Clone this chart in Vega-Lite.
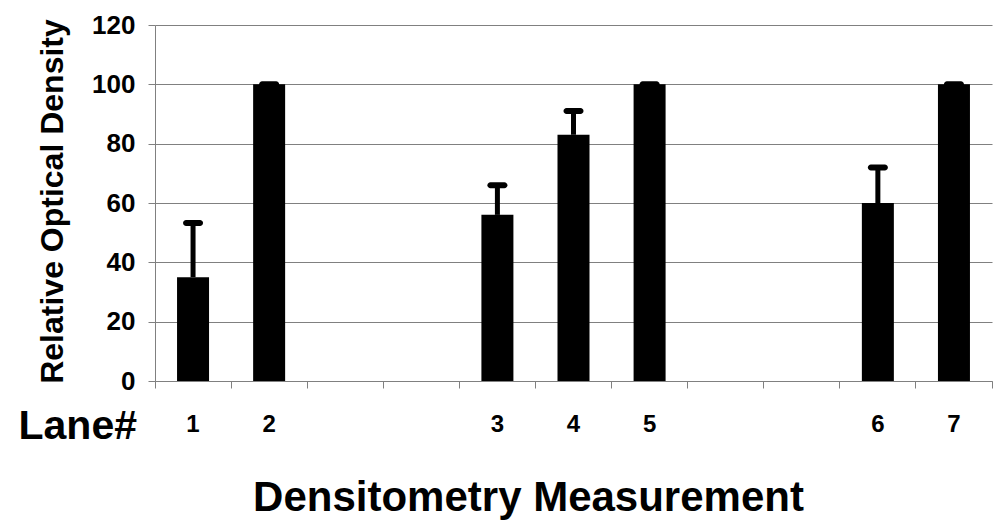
{
  "$schema": "https://vega.github.io/schema/vega-lite/v6.json",
  "width": 837,
  "height": 356,
  "autosize": {"type": "none"},
  "padding": {"left": 155, "top": 25, "right": 12, "bottom": 151},
  "background": "white",
  "config": {
    "view": {"stroke": null},
    "font": "Liberation Sans",
    "axis": {"labelFont": "Liberation Sans", "titleFont": "Liberation Sans", "labelFontWeight": "bold", "titleFontWeight": "bold", "labelColor": "black", "titleColor": "black"}
  },
  "title": {
    "text": "Densitometry Measurement",
    "orient": "bottom",
    "anchor": "middle",
    "frame": "group",
    "dx": -45,
    "offset": 65,
    "baseline": "alphabetic",
    "fontSize": 42,
    "fontWeight": "bold",
    "font": "Liberation Sans",
    "color": "black"
  },
  "data": {
    "values": [
      {"lane": "1", "value": 35, "err": 53.3},
      {"lane": "2", "value": 100, "err": 100},
      {"lane": "3", "value": 56, "err": 66},
      {"lane": "4", "value": 83, "err": 91},
      {"lane": "5", "value": 100, "err": 100},
      {"lane": "6", "value": 60, "err": 72},
      {"lane": "7", "value": 100, "err": 100}
    ]
  },
  "encoding": {
    "x": {
      "field": "lane",
      "type": "nominal",
      "sort": null,
      "scale": {"domain": ["1", "2", " ", "  ", "3", "4", "5", "   ", "    ", "6", "7"], "paddingInner": 0, "paddingOuter": 0},
      "axis": {
        "title": "Lane#",
        "titleFontSize": 41,
        "titleAnchor": "start",
        "titleAlign": "left",
        "titleBaseline": "alphabetic",
        "titleX": -137,
        "titleY": 57,
        "titleAngle": 0,
        "labelAngle": 0,
        "labelFontSize": 24,
        "labelBaseline": "alphabetic",
        "labelPadding": 43,
        "bandPosition": 1,
        "tickExtra": true,
        "tickSize": 7,
        "tickColor": "#808080",
        "domainColor": "#808080",
        "grid": false
      }
    }
  },
  "layer": [
    {
      "mark": {"type": "bar", "size": 32, "color": "black", "opacity": 1},
      "encoding": {
        "y": {
          "field": "value",
          "type": "quantitative",
          "title": "Relative Optical Density",
          "scale": {"domain": [0, 120], "nice": false},
          "axis": {
            "values": [0, 20, 40, 60, 80, 100, 120],
            "labelFontSize": 26,
            "labelPadding": 13,
            "tickSize": 7,
            "tickColor": "#808080",
            "domainColor": "#808080",
            "grid": true,
            "gridColor": "#808080",
            "gridOpacity": 1,
            "titleFontSize": 32,
            "titleAngle": -90,
            "titleAlign": "center",
            "titleBaseline": "alphabetic",
            "titleX": -93,
            "titleY": 176
          }
        }
      }
    },
    {
      "mark": {"type": "rule", "color": "black", "strokeWidth": 5, "opacity": 1},
      "encoding": {
        "y": {"field": "value", "type": "quantitative", "title": "Relative Optical Density"},
        "y2": {"field": "err"}
      }
    },
    {
      "mark": {"type": "tick", "orient": "horizontal", "color": "black", "opacity": 1, "size": 20, "thickness": 6, "cornerRadius": 3},
      "encoding": {
        "y": {"field": "err", "type": "quantitative", "title": "Relative Optical Density"}
      }
    }
  ]
}
